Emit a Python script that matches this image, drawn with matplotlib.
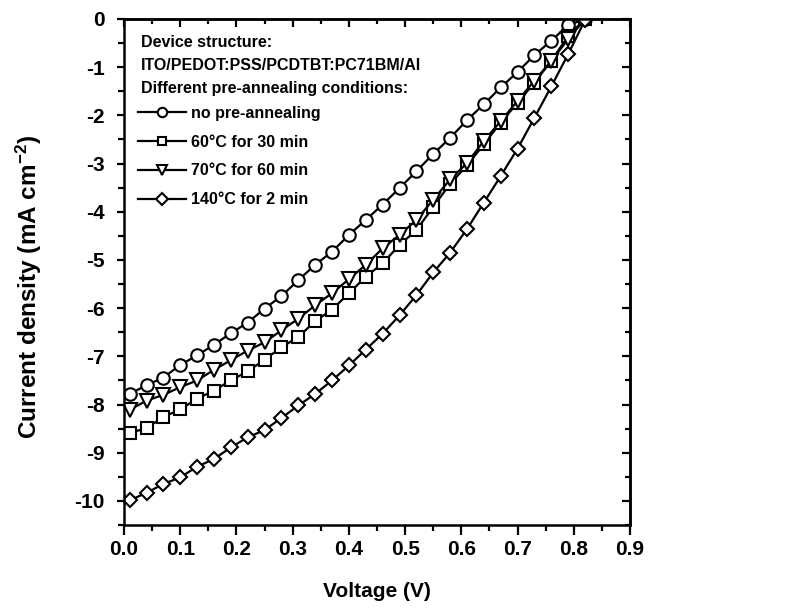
import matplotlib
matplotlib.use("Agg")
import matplotlib.pyplot as plt
from matplotlib.ticker import MultipleLocator

plt.rcParams['font.family'] = ['Liberation Sans', 'DejaVu Sans']
plt.rcParams['font.weight'] = 'bold'
plt.rcParams['axes.unicode_minus'] = False
plt.rcParams['mathtext.fontset'] = 'custom'
plt.rcParams['mathtext.rm'] = 'Liberation Sans:bold'
plt.rcParams['mathtext.bf'] = 'Liberation Sans:bold'
plt.rcParams['mathtext.default'] = 'bf'

voltage = [0.01, 0.04, 0.07, 0.10, 0.13, 0.16, 0.19, 0.22, 0.25, 0.28,
           0.31, 0.34, 0.37, 0.40, 0.43, 0.46, 0.49, 0.52, 0.55, 0.58,
           0.61, 0.64, 0.67, 0.70, 0.73, 0.76, 0.79, 0.82]

j_no_pre = [-7.78, -7.60, -7.44, -7.18, -6.98, -6.76, -6.52, -6.30, -6.01, -5.75,
            -5.42, -5.10, -4.83, -4.48, -4.17, -3.85, -3.51, -3.16, -2.80, -2.47,
            -2.10, -1.77, -1.42, -1.10, -0.75, -0.45, -0.13, 0.0]

j_60c = [-8.59, -8.49, -8.26, -8.10, -7.88, -7.71, -7.50, -7.31, -7.07, -6.81,
         -6.60, -6.27, -6.03, -5.69, -5.35, -5.07, -4.69, -4.38, -3.90, -3.42,
         -3.04, -2.60, -2.15, -1.74, -1.32, -0.87, -0.35, 0.0]

j_70c = [-8.11, -7.92, -7.80, -7.64, -7.50, -7.28, -7.08, -6.88, -6.71, -6.46,
         -6.22, -5.94, -5.69, -5.40, -5.10, -4.76, -4.48, -4.17, -3.75, -3.33,
         -2.99, -2.53, -2.12, -1.70, -1.28, -0.87, -0.42, 0.0]

j_140c = [-9.99, -9.83, -9.65, -9.51, -9.29, -9.13, -8.89, -8.68, -8.53, -8.28,
          -8.02, -7.78, -7.50, -7.19, -6.86, -6.53, -6.15, -5.73, -5.26, -4.85,
          -4.36, -3.81, -3.26, -2.69, -2.05, -1.40, -0.73, -0.02]

labels = ['no pre-annealing', '60°C for 30 min',
          '70°C for 60 min', '140°C for 2 min']
markers = ['o', 's', 'v', 'D']
series = [j_no_pre, j_60c, j_70c, j_140c]

header_lines = ['Device structure:', 'ITO/PEDOT:PSS/PCDTBT:PC71BM/Al',
                'Different pre-annealing conditions:']

fig = plt.figure(figsize=(7.89, 6.08), dpi=100)
ax = fig.add_axes([0.1572, 0.1365, 0.6413, 0.8323])

msizes = {'o': 9, 's': 8, 'v': 9.5, 'D': 7.5}
for ys, m, lab in zip(series, markers, labels):
    ax.plot(voltage, ys, color='black', lw=1.6, marker=m, ms=msizes[m],
            mfc='white', mec='black', mew=1.5, label=lab)

ax.set_xlim(0.0, 0.9)
ax.set_ylim(-10.5, 0)
ax.xaxis.set_major_locator(MultipleLocator(0.1))
ax.xaxis.set_minor_locator(MultipleLocator(0.05))
ax.yaxis.set_major_locator(MultipleLocator(1))
ax.yaxis.set_minor_locator(MultipleLocator(0.5))
ax.xaxis.set_major_formatter(plt.FuncFormatter(lambda v, p: f'{v:.1f}'))
ax.yaxis.set_major_formatter(plt.FuncFormatter(lambda v, p: f'{int(round(v))}'))

for s in ax.spines.values():
    s.set_linewidth(1.8)

ax.tick_params(which='both', direction='out', top=False, right=False,
               width=1.6, labelsize=15)
ax.tick_params(axis='x', which='major', length=7, pad=4)
ax.tick_params(axis='x', which='minor', length=4)
ax.tick_params(axis='y', which='major', length=5, pad=9)
ax.tick_params(axis='y', which='minor', length=4)
ax2 = ax.secondary_xaxis('top')
ax2.xaxis.set_major_locator(MultipleLocator(0.1))
ax2.xaxis.set_minor_locator(MultipleLocator(0.05))
ax2.tick_params(which='both', direction='in', width=1.6, labeltop=False)
ax2.tick_params(which='major', length=6)
ax2.tick_params(which='minor', length=3.5)
ax2.spines['top'].set_linewidth(1.8)
ax3 = ax.secondary_yaxis('right')
ax3.yaxis.set_major_locator(MultipleLocator(1))
ax3.yaxis.set_minor_locator(MultipleLocator(0.5))
ax3.tick_params(which='both', direction='in', width=1.6, labelright=False)
ax3.tick_params(which='major', length=6)
ax3.tick_params(which='minor', length=3.5)
ax3.spines['right'].set_linewidth(1.8)

for lbl in ax.get_xticklabels() + ax.get_yticklabels():
    lbl.set_fontweight('bold')

ax.set_xlabel('Voltage (V)', fontsize=15, fontweight='bold', labelpad=16)
ax.set_ylabel('Current density (mA cm$^{-2}$)', fontsize=17.5, fontweight='bold')
ax.yaxis.set_label_coords(-0.158, 0.47)

header_y = [0.954, 0.909, 0.863]
for yy, t in zip(header_y, header_lines):
    ax.text(0.034, yy, t, transform=ax.transAxes, fontsize=11.5,
            fontweight='bold', va='center', ha='left')

leg = ax.legend(loc='upper left', bbox_to_anchor=(0.028, 0.828), frameon=False,
                fontsize=11.5, handlelength=3.0, handletextpad=0.3,
                labelspacing=0.86, borderaxespad=0.0, borderpad=0.0,
                markerscale=0.75)
for t in leg.get_texts():
    t.set_fontweight('bold')

fig.savefig('out.png', dpi=100)
